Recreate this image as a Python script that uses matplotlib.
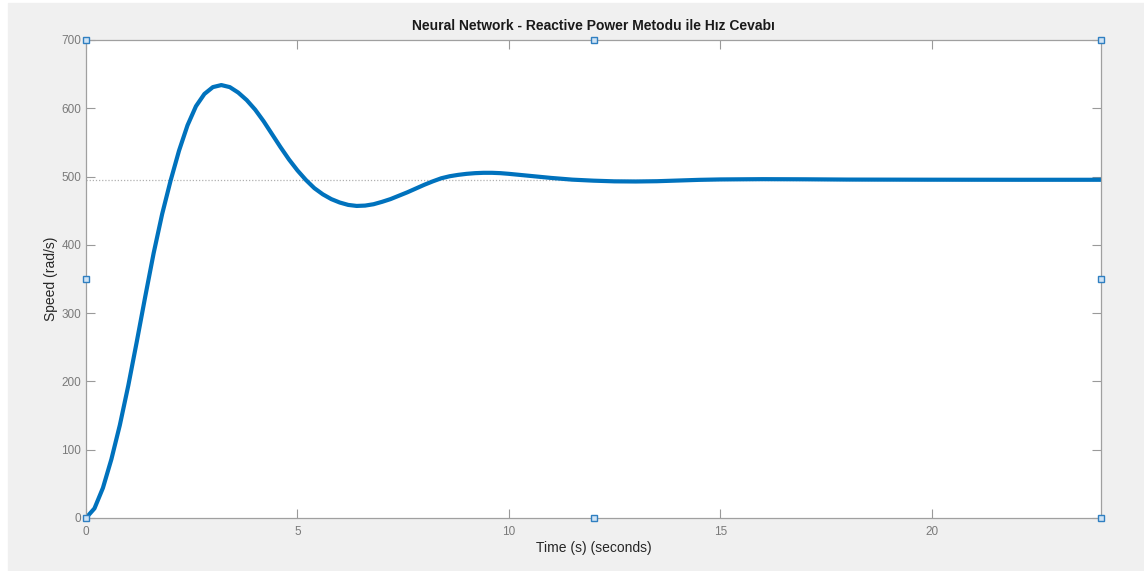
import numpy as np
import matplotlib.pyplot as plt
from matplotlib.patches import Rectangle

plt.rcParams['font.family'] = ['Liberation Sans', 'DejaVu Sans']

# speed response
t = [0, 0.2, 0.4, 0.6, 0.8, 1.0, 1.2, 1.4, 1.6, 1.8, 2.0, 2.2, 2.4, 2.6, 2.8, 3.0,
     3.2, 3.4, 3.6, 3.8, 4.0, 4.2, 4.4, 4.6, 4.8, 5.0, 5.2, 5.4, 5.6, 5.8, 6.0,
     6.2, 6.4, 6.6, 6.8, 7.0, 7.2, 7.4, 7.6, 7.8, 8.0, 8.2, 8.4, 8.6, 8.8, 9.0,
     9.2, 9.4, 9.6, 9.8, 10.0, 10.5, 11.0, 11.5, 12.0, 12.5, 13.0, 13.5, 14.0,
     14.5, 15.0, 16.0, 17.0, 18.0, 20.0, 22.0, 24.0]
speed = [0, 14, 44, 86, 136, 194, 258, 324, 388, 445, 494, 538, 575, 603, 621, 631,
         634, 631, 623, 612, 598, 581, 562, 543, 525, 509, 495, 483, 474, 467, 462,
         458.5, 457, 457.5, 459.5, 463, 467, 472, 477, 482.5, 488, 493, 497.5, 500.5, 502.5, 504,
         505, 505.5, 505.5, 505, 504, 501, 498, 495.5, 494, 493, 492.8, 493.2, 494.2,
         495.2, 495.8, 496.2, 496, 495.6, 495.4, 495.3, 495.3]
final_value = 495

x_ticks = [0, 5, 10, 15, 20]
y_ticks = [0, 100, 200, 300, 400, 500, 600, 700]

# selection handles shown around the axes
handle_x = [0, 0, 0, 12, 12, 24, 24, 24]
handle_y = [0, 350, 700, 0, 700, 0, 350, 700]

fig = plt.figure(figsize=(11.44, 5.71), dpi=100)
fig.patches.append(Rectangle((8 / 1144, 0), 1 - 8 / 1144, 1 - 3 / 571,
                             transform=fig.transFigure, color='#f0f0f0', zorder=-1))

ax = fig.add_axes([86 / 1144, 53 / 571, 1015 / 1144, 478 / 571])
ax.plot(t, speed, color='#0072BD', lw=3, solid_capstyle='round', solid_joinstyle='round')
ax.axhline(final_value, color='#b0b0b0', lw=0.9, ls=(0, (1, 1.5)), zorder=0)

ax.set_xlim(0, 24)
ax.set_ylim(0, 700)
ax.set_xticks(x_ticks)
ax.set_yticks(y_ticks)
ax.tick_params(direction='in', length=6.5, width=0.8, color='#9a9a9a',
               labelcolor='#7a7a7a', labelsize=8.5, top=True, right=True)
ax.tick_params(axis='x', pad=6)
ax.tick_params(axis='y', pad=3.5)
for s in ax.spines.values():
    s.set_color('#a0a0a0')
    s.set_linewidth(0.9)

ax.plot(handle_x, handle_y, ls='none', marker='s', ms=4.5, mfc='#cfe3f5',
        mec='#2f7fc1', mew=1, clip_on=False, zorder=5)

ax.set_title('Neural Network - Reactive Power Metodu ile Hız Cevabı',
             fontsize=10, fontweight='bold', color='#1a1a1a', pad=7)
ax.set_xlabel('Time (s) (seconds)', fontsize=10, color='#262626', labelpad=2)
ax.set_ylabel('Speed (rad/s)', fontsize=10, color='#262626', labelpad=2.5)

fig.savefig('out.png', dpi=100)
